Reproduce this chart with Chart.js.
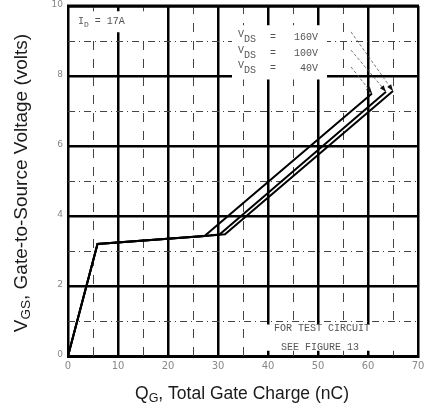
<!DOCTYPE html>
<html>
<head>
<meta charset="utf-8">
<script src="https://cdn.jsdelivr.net/npm/chart.js@4.4.1/dist/chart.umd.min.js"></script>
<style>
html,body{margin:0;padding:0;background:#fff;}
#c{display:block;}
</style>
</head>
<body>
<canvas id="c" width="432" height="406"></canvas>
<script>
// ---- data ----
const xTicks = [0, 10, 20, 30, 40, 50, 60, 70];
const yTicks = [0, 2, 4, 6, 8, 10];
const q40  = [0, 5.9, 27.3, 60.8];
const v40  = [0, 3.2, 3.43, 7.5];
const q100 = [0, 5.9, 27.3, 30.3, 63.6];
const v100 = [0, 3.2, 3.43, 3.47, 7.55];
const q160 = [0, 5.9, 27.3, 31.4, 65.0];
const v160 = [0, 3.2, 3.43, 3.48, 7.57];
const seriesLabels = ['160V', '100V', '40V'];
// leader line start (label side) and end (curve tip) in data units
const leaderFromQ = [56.6, 56.6, 56.6];
const leaderFromV = [9.26, 8.74, 8.26];
const leaderToQ   = [65.0, 63.6, 60.8];
const leaderToV   = [7.57, 7.55, 7.5];

function pts(xs, ys){ return xs.map((x,i)=>({x:x, y:ys[i]})); }

function drawParts(ctx, parts, x, y, align){
  let w = 0;
  parts.forEach(p=>{ ctx.font = p.font; w += ctx.measureText(p.t).width; });
  let cx = align === 'center' ? x - w/2 : x;
  parts.forEach(p=>{
    ctx.font = p.font;
    ctx.fillText(p.t, cx, y + (p.dy||0));
    cx += ctx.measureText(p.t).width;
  });
}

const overlay = {
  id: 'overlay',
  beforeDatasetsDraw(chart){
    const ctx = chart.ctx, xs = chart.scales.x, ys = chart.scales.y;
    const ca = chart.chartArea;
    ctx.save();
    ctx.strokeStyle = '#444';
    ctx.lineWidth = 1;
    // minor horizontal (odd volts)
    ctx.setLineDash([7,4,1,4]);
    [1,3,5,7,9].forEach(v=>{
      const py = Math.round(ys.getPixelForValue(v)) + 0.5;
      ctx.beginPath(); ctx.moveTo(ca.left, py); ctx.lineTo(ca.right, py); ctx.stroke();
    });
    // minor vertical (every 5 nC between majors)
    ctx.setLineDash([9,9]);
    [5,15,25,35,45,55,65].forEach(q=>{
      const px = Math.round(xs.getPixelForValue(q)) + 0.5;
      ctx.beginPath(); ctx.moveTo(px, ca.bottom); ctx.lineTo(px, ca.top); ctx.stroke();
    });
    ctx.setLineDash([]);
    // white label boxes
    ctx.fillStyle = '#fff';
    const box = (q1,v1,q2,v2)=>{
      const x1 = xs.getPixelForValue(q1), x2 = xs.getPixelForValue(q2);
      const y1 = ys.getPixelForValue(v1), y2 = ys.getPixelForValue(v2);
      ctx.fillRect(Math.min(x1,x2), Math.min(y1,y2), Math.abs(x2-x1), Math.abs(y2-y1));
    };
    box(0.8, 9.85, 16.5, 9.25);
    box(32.8, 9.45, 51.8, 7.9);
    box(37, 0.9, 69.2, 0.15);
    // texts
    ctx.fillStyle = '#555';
    ctx.textBaseline = 'alphabetic';
    const f = '10px "Liberation Mono"', fs = '8px "Liberation Mono"';
    drawParts(ctx, [{t:'I',font:f},{t:'D',font:fs,dy:3},{t:' = 17A',font:f}], 78, 24, 'left');
    const lx = 238;
    seriesLabels.forEach((lab,i)=>{
      const y = 40 + i*15.5;
      drawParts(ctx, [{t:'V',font:f,dy:-3},{t:'DS',font:f,dy:2}], lx, y, 'left');
      ctx.font = f;
      ctx.fillText('=', 270, y);
      ctx.textAlign = 'right';
      ctx.fillText(lab, 318, y);
      ctx.textAlign = 'left';
    });
    ctx.font = '10px "Liberation Mono"';
    ctx.textAlign = 'center';
    ctx.fillText('FOR TEST CIRCUIT', 322, 331);
    ctx.fillText('SEE FIGURE 13', 320, 350);
    ctx.restore();
  },
  afterDatasetsDraw(chart){
    const ctx = chart.ctx, xs = chart.scales.x, ys = chart.scales.y;
    const ca = chart.chartArea;
    ctx.save();
    // top and right frame
    ctx.strokeStyle = '#000';
    ctx.lineWidth = 3;
    ctx.beginPath(); ctx.moveTo(ca.left - 1, ca.top); ctx.lineTo(ca.right + 1, ca.top); ctx.stroke();
    ctx.lineWidth = 2;
    ctx.beginPath(); ctx.moveTo(ca.right, ca.top); ctx.lineTo(ca.right, ca.bottom + 1); ctx.stroke();

    ctx.strokeStyle = '#555';
    ctx.fillStyle = '#111';
    ctx.lineWidth = 0.8;
    leaderFromQ.forEach((q,i)=>{
      const x1 = xs.getPixelForValue(q), y1 = ys.getPixelForValue(leaderFromV[i]);
      const x2 = xs.getPixelForValue(leaderToQ[i]), y2 = ys.getPixelForValue(leaderToV[i]);
      ctx.setLineDash([3,2]);
      ctx.beginPath(); ctx.moveTo(x1,y1); ctx.lineTo(x2,y2); ctx.stroke();
      ctx.setLineDash([]);
      const a = Math.atan2(y2-y1, x2-x1), L = 7, W = 0.35;
      ctx.beginPath();
      ctx.moveTo(x2,y2);
      ctx.lineTo(x2 - L*Math.cos(a-W), y2 - L*Math.sin(a-W));
      ctx.lineTo(x2 - L*Math.cos(a+W), y2 - L*Math.sin(a+W));
      ctx.closePath(); ctx.fill();
    });
    // axis titles
    ctx.fillStyle = '#1a1a1a';
    ctx.textBaseline = 'alphabetic';
    const F = '17.5px "Liberation Sans"', FS = '12.5px "Liberation Sans"';
    drawParts(ctx, [{t:'Q',font:F},{t:'G',font:FS,dy:3},{t:', Total Gate Charge (nC)',font:F}], 242, 399, 'center');
    const F2 = '19px "Liberation Sans"', FS2 = '13.5px "Liberation Sans"';
    ctx.translate(27, 183);
    ctx.rotate(-Math.PI/2);
    drawParts(ctx, [{t:'V',font:F2},{t:'GS',font:FS2,dy:3},{t:', Gate-to-Source Voltage (volts)',font:F2}], 0, 0, 'center');
    ctx.restore();
  }
};

const lineStyle = {borderColor:'#000', borderWidth:2, pointRadius:0, fill:false, tension:0, showLine:true};

new Chart(document.getElementById('c'), {
  type: 'scatter',
  data: {
    datasets: [
      Object.assign({label:'VDS = 40V',  data: pts(q40, v40)}, lineStyle),
      Object.assign({label:'VDS = 100V', data: pts(q100, v100)}, lineStyle),
      Object.assign({label:'VDS = 160V', data: pts(q160, v160)}, lineStyle)
    ]
  },
  options: {
    responsive: false,
    animation: false,
    layout: {padding: {top: 6, right: 14, left: 0, bottom: 0}},
    plugins: {legend: {display:false}, tooltip: {enabled:false}},
    scales: {
      x: {
        type: 'linear', min: 0, max: 70,
        afterBuildTicks: s => { s.ticks = xTicks.map(v=>({value:v})); },
        afterFit: s => { s.height = 50; s.paddingLeft = 0; s.paddingRight = 0; },
        grid: {color:'#000', lineWidth: 2.5, drawTicks: false},
        border: {color:'#000', width: 3},
        ticks: {color:'#888', font:{family:'DejaVu Sans', size:10}, padding: 4, maxRotation:0}
      },
      y: {
        type: 'linear', min: 0, max: 10,
        afterBuildTicks: s => { s.ticks = yTicks.map(v=>({value:v})); },
        afterFit: s => { s.width = 68; s.paddingTop = 0; s.paddingBottom = 0; },
        grid: {color:'#000', lineWidth: 2.5, drawTicks: false},
        border: {color:'#000', width: 2},
        ticks: {color:'#888', font:{family:'DejaVu Sans', size:9}, padding: 5, labelOffset: -1}
      }
    }
  },
  plugins: [overlay]
});
</script>
</body>
</html>
